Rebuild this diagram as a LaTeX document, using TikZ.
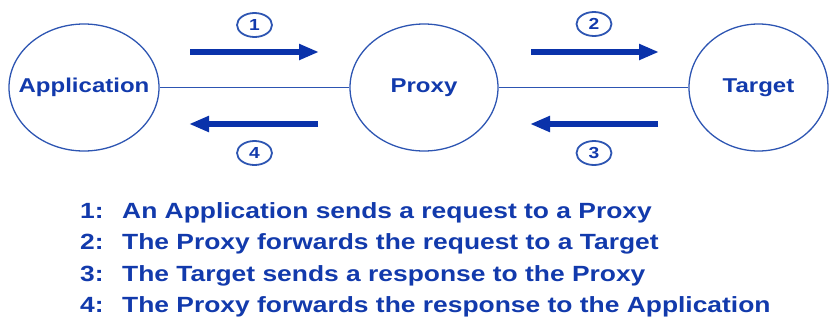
\documentclass[tikz,border=0pt]{standalone}
\usepackage{fontspec}
\setmainfont{Liberation Sans}[FakeStretch=1.2]
\usetikzlibrary{shapes.geometric,arrows.meta}
\definecolor{txtblue}{RGB}{18,58,172}
\definecolor{linblue}{RGB}{45,85,178}
\definecolor{arrblue}{RGB}{10,50,170}
\begin{document}
\begin{tikzpicture}[x=1pt,y=-1pt,
  entity/.style={ellipse,draw=linblue,line width=1.3pt,minimum height=127pt,inner sep=0pt,
    label={[text=txtblue,font=\bfseries\fontsize{20}{22}\selectfont]center:#1}},
  numcirc/.style={ellipse,draw=linblue,line width=1.8pt,minimum width=35pt,minimum height=24pt,inner sep=0pt,
    text=txtblue,font=\bfseries\fontsize{16}{17}\selectfont},
  link/.style={draw=linblue,line width=1.1pt},
  flow/.style={draw=arrblue,line width=5.5pt,-{Triangle[length=20pt,width=15pt]}},
  numtxt/.style={anchor=base west,inner sep=0pt,text=txtblue,font=\bfseries\fontsize{22}{24}\selectfont}]
\useasboundingbox (0,0) rectangle (830,322);
\node[entity=Application,minimum width=150pt] (app) at (84,87.5) {};
\node[entity=Proxy,minimum width=148pt] (proxy) at (424,87.5) {};
\node[entity=Target,minimum width=139pt] (target) at (758.5,87.5) {};
\draw[link] (app) -- (proxy);
\draw[link] (proxy) -- (target);
\coordinate (a1s) at (190,52); \coordinate (a1e) at (319,52);
\coordinate (a4s) at (318,124); \coordinate (a4e) at (189,124);
\coordinate (a2s) at (531,52); \coordinate (a2e) at (659,52);
\coordinate (a3s) at (658,124); \coordinate (a3e) at (530,124);
\draw[flow] (a1s) -- (a1e);
\draw[flow] (a4s) -- (a4e);
\draw[flow] (a2s) -- (a2e);
\draw[flow] (a3s) -- (a3e);
\node[numcirc] (n1) at (254.5,25) {1};
\node[numcirc] (n4) at (254.5,153) {4};
\node[numcirc] (n2) at (594,24) {2};
\node[numcirc] (n3) at (594,153) {3};
\node[numtxt] (k1) at (80,218) {1:};
\node[numtxt] (t1) at (122,218) {An Application sends a request to a Proxy};
\node[numtxt] (k2) at (80,249.5) {2:};
\node[numtxt] (t2) at (122,249.5) {The Proxy forwards the request to a Target};
\node[numtxt] (k3) at (80,281) {3:};
\node[numtxt] (t3) at (122,281) {The Target sends a response to the Proxy};
\node[numtxt] (k4) at (80,312) {4:};
\node[numtxt] (t4) at (122,312) {The Proxy forwards the response to the Application};
\end{tikzpicture}
\end{document}
